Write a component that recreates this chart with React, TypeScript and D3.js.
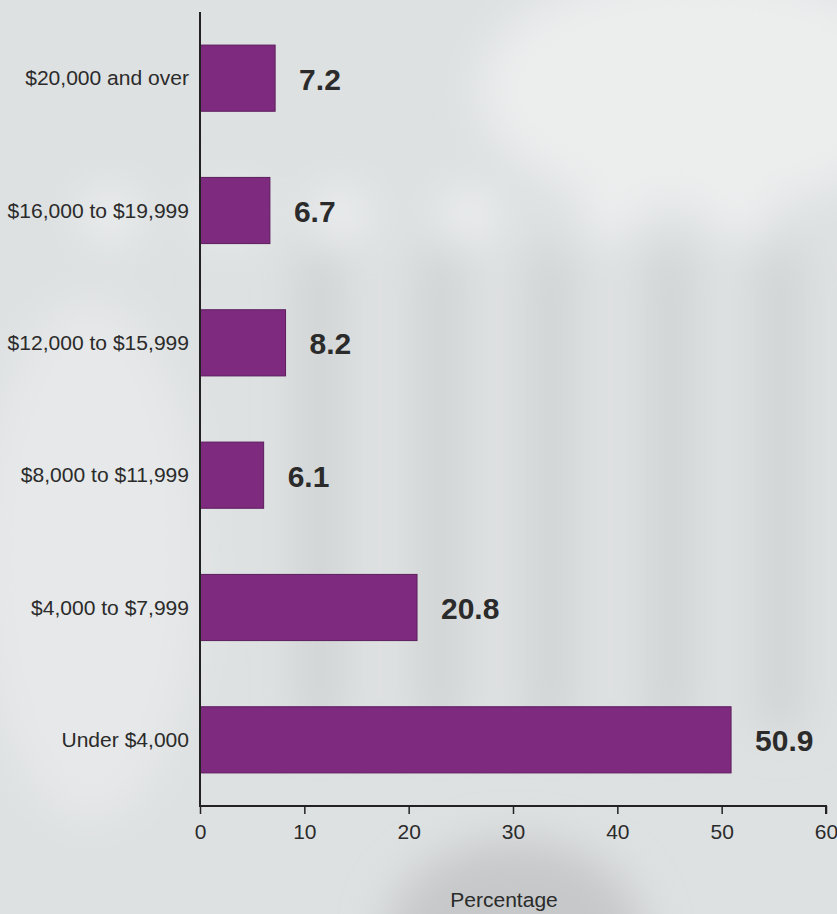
import { useEffect, useRef } from "react";
import * as d3 from "d3";

const categories = [
  "$20,000 and over",
  "$16,000 to $19,999",
  "$12,000 to $15,999",
  "$8,000 to $11,999",
  "$4,000 to $7,999",
  "Under $4,000",
];
const percentages = [7.2, 6.7, 8.2, 6.1, 20.8, 50.9];
const xTicks = [0, 10, 20, 30, 40, 50, 60];

const W = 837;
const H = 914;
const FONT = "'Liberation Sans', Arial, Helvetica, sans-serif";

export default function App() {
  const svgRef = useRef<SVGSVGElement | null>(null);

  useEffect(() => {
    const svg = svgRef.current;
    if (!svg) return;
    svg.innerHTML = "";
    const root = d3.select(svg);

    // soft, washed-out backdrop standing in for the photo
    const defs = root.append("defs");
    defs
      .append("filter")
      .attr("id", "blur")
      .attr("x", "-30%")
      .attr("y", "-30%")
      .attr("width", "160%")
      .attr("height", "160%")
      .append("feGaussianBlur")
      .attr("stdDeviation", 22);
    root.append("rect").attr("width", W).attr("height", H).attr("fill", "#dee1e2");
    const bg = root.append("g").attr("filter", "url(#blur)");
    bg.append("ellipse").attr("cx", 700).attr("cy", 90).attr("rx", 220).attr("ry", 120).attr("fill", "#eceeee");
    bg.append("ellipse").attr("cx", 90).attr("cy", 560).attr("rx", 110).attr("ry", 260).attr("fill", "#e6e8e9");
    [110, 230, 340, 470, 610, 740].forEach((cx) => {
      bg.append("circle").attr("cx", cx).attr("cy", 215).attr("r", 26).attr("fill", "#eef0f0");
    });
    [300, 420, 530, 650, 760].forEach((cx) => {
      bg.append("rect").attr("x", cx).attr("y", 250).attr("width", 40).attr("height", 480).attr("fill", "#cfd2d3");
    });
    bg.append("ellipse").attr("cx", 515).attr("cy", 940).attr("rx", 130).attr("ry", 100).attr("fill", "#c6c8c9");

    const x = d3.scaleLinear().domain([0, 60]).range([200, 826]);
    const y = d3
      .scaleBand()
      .domain(categories)
      .range([12, 806])
      .paddingInner(0.5)
      .paddingOuter(0.25);

    const data = categories.map((c, i) => ({ label: c, value: percentages[i] }));

    root
      .append("g")
      .selectAll("rect")
      .data(data)
      .join("rect")
      .attr("x", x(0))
      .attr("y", (d) => y(d.label)!)
      .attr("width", (d) => x(d.value) - x(0))
      .attr("height", y.bandwidth())
      .attr("fill", "#7e2b7f")
      .attr("stroke", "#5c1d5d")
      .attr("stroke-width", 1);

    // value labels
    root
      .append("g")
      .selectAll("text")
      .data(data)
      .join("text")
      .attr("x", (d) => x(d.value) + 24)
      .attr("y", (d) => y(d.label)! + y.bandwidth() / 2 + 11.5)
      .attr("font-family", FONT)
      .attr("font-weight", "bold")
      .attr("font-size", 30)
      .attr("fill", "#2b2b2b")
      .text((d) => d.value.toFixed(1));

    // category labels (slightly wide type as in the print)
    root
      .append("g")
      .selectAll("text")
      .data(data)
      .join("text")
      .attr("transform", (d) => `translate(189,${y(d.label)! + y.bandwidth() / 2 + 7}) scale(1.08,1)`)
      .attr("text-anchor", "end")
      .attr("font-family", FONT)
      .attr("font-size", 19.5)
      .attr("fill", "#2b2b2b")
      .text((d) => d.label);

    // y axis line
    root
      .append("line")
      .attr("x1", x(0))
      .attr("x2", x(0))
      .attr("y1", 12)
      .attr("y2", 807)
      .attr("stroke", "#222")
      .attr("stroke-width", 2);

    // x axis
    const xAxis = root
      .append("g")
      .attr("transform", "translate(0,806)")
      .call(
        d3
          .axisBottom(x)
          .tickValues(xTicks)
          .tickSize(8)
          .tickPadding(10)
          .tickFormat((d) => String(d))
      );
    xAxis.select(".domain").attr("stroke", "#222").attr("stroke-width", 2).attr("d", `M${x(0)},0H${x(60)}V8`);
    xAxis.selectAll(".tick line").attr("stroke", "#222").attr("stroke-width", 1.5);
    xAxis
      .selectAll(".tick text")
      .attr("font-family", FONT)
      .attr("font-size", 21)
      .attr("fill", "#2b2b2b");

    root
      .append("text")
      .attr("transform", "translate(504,907) scale(1.08,1)")
      .attr("text-anchor", "middle")
      .attr("font-family", FONT)
      .attr("font-size", 19.5)
      .attr("fill", "#2b2b2b")
      .text("Percentage");
  }, []);

  return (
    <svg
      ref={svgRef}
      width={W}
      height={H}
      style={{ position: "absolute", left: 0, top: 0, display: "block" }}
    />
  );
}
